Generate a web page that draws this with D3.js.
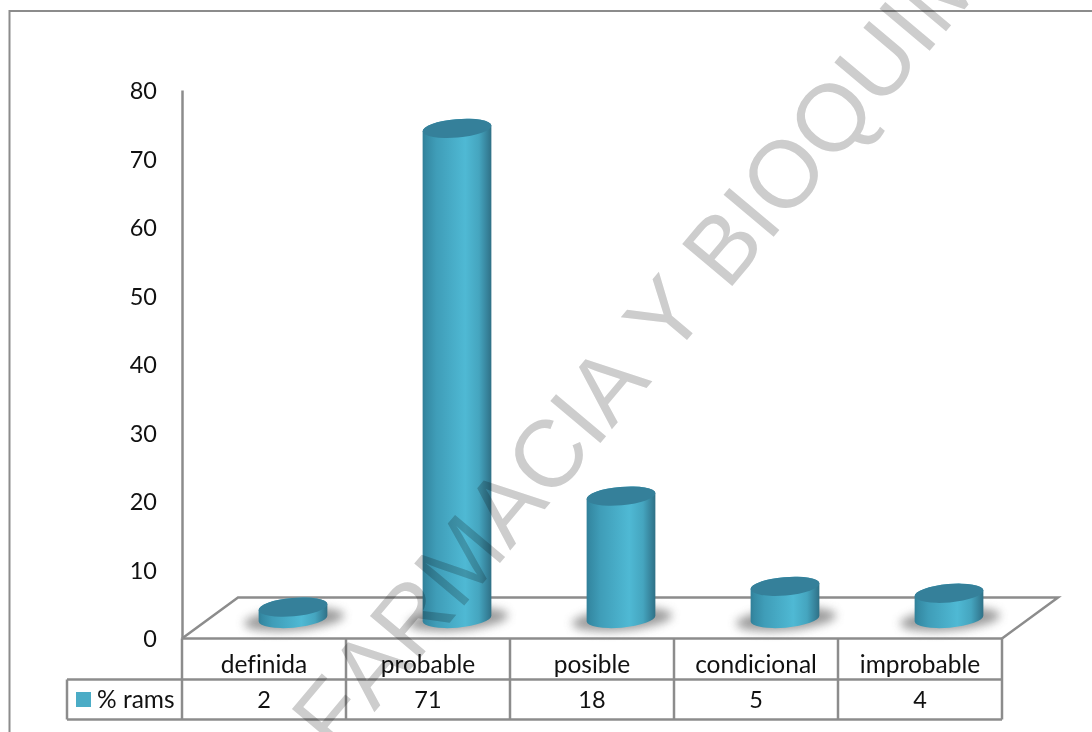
<!DOCTYPE html>
<html>
<head>
<meta charset="utf-8">
<script src="https://cdn.jsdelivr.net/npm/d3@7/dist/d3.min.js"></script>
<style>
  html, body { margin: 0; padding: 0; background: #fff; overflow: hidden; }
  svg { display: block; }
  text { font-family: Lato, "Open Sans", sans-serif; fill: #111; font-variant-ligatures: none; }
</style>
</head>
<body>
<svg id="chart" width="1092" height="732"></svg>
<script>
const categories = ["definida", "probable", "posible", "condicional", "improbable"];
const values = [2, 71, 18, 5, 4];
const yTicks = [0, 10, 20, 30, 40, 50, 60, 70, 80];
const seriesName = "% rams";
const stamp = "FARMACIA Y BIOQUIMICA";

const W = 1092, H = 732;
const ink = "#8c8c8c";
const wordSize = 24.5;
const digitSize = 23.5;
const depth = { x: 56, y: 41 };
const plot = { left: 182, right: 1002, top: 90, bottom: 638.5 };
const rows = { head: 679.5, foot: 719.5 };
const legendLeft = 67;

const svg = d3.select("#chart");
const defs = svg.append("defs");

// Horizontal shading that makes each column read as a cylinder
const side = defs.append("linearGradient").attr("id", "cylSide");
[[0, "#317f98"], [0.05, "#358aa4"], [0.2, "#3f9db8"], [0.62, "#4fb9d4"], [0.82, "#45a5bf"], [0.95, "#357f97"], [1, "#2f7085"]]
  .forEach(([o, c]) => side.append("stop").attr("offset", o).attr("stop-color", c));

defs.append("filter").attr("id", "soft")
  .attr("x", "-30%").attr("y", "-80%").attr("width", "160%").attr("height", "260%")
  .append("feGaussianBlur").attr("stdDeviation", 5);

const x = d3.scaleBand().domain(categories).range([plot.left, plot.right]);
const y = d3.scaleLinear().domain([0, 80]).range([plot.bottom, plot.top]);
// Columns stand on the receding floor, so they use their own projected scale
const yDepth = d3.scaleLinear().domain([0, 80]).range([621, 66]);

// Outer chart frame, running past the right and bottom of the page
svg.append("rect").attr("x", 9.5).attr("y", 11).attr("width", W + 40).attr("height", H + 40)
  .attr("fill", "#fff").attr("stroke", ink).attr("stroke-width", 2);

// Value axis
const axis = svg.append("g").attr("transform", `translate(${plot.left},0)`)
  .call(d3.axisLeft(y).tickValues(yTicks).tickSize(0).tickPadding(25).tickFormat(d3.format("d")));
axis.select(".domain").attr("stroke", ink).attr("stroke-width", 2.5);
axis.selectAll("text").attr("font-size", digitSize).attr("fill", "#111").attr("dy", "0.36em");

// Floor parallelogram
const floor = d3.line();
svg.append("path")
  .attr("d", floor([
    [plot.left, plot.bottom],
    [plot.left + depth.x, plot.bottom - depth.y],
    [plot.right + depth.x, plot.bottom - depth.y],
    [plot.right, plot.bottom]
  ]))
  .attr("fill", "none").attr("stroke", ink).attr("stroke-width", 2.5);

// Data table below the plot
const table = svg.append("g").attr("stroke", ink).attr("stroke-width", 2.5).attr("fill", "none");
table.append("line").attr("x1", plot.left).attr("x2", plot.right).attr("y1", plot.bottom).attr("y2", plot.bottom);
table.append("line").attr("x1", legendLeft).attr("x2", plot.right).attr("y1", rows.head).attr("y2", rows.head);
table.append("line").attr("x1", legendLeft).attr("x2", plot.right).attr("y1", rows.foot).attr("y2", rows.foot);
table.append("line").attr("x1", legendLeft).attr("x2", legendLeft).attr("y1", rows.head).attr("y2", rows.foot);
[...categories.map(c => x(c)), plot.right].forEach(px =>
  table.append("line").attr("x1", px).attr("x2", px).attr("y1", plot.bottom).attr("y2", rows.foot));

const cell = (sel, dy, size) => sel.append("text")
  .attr("x", (d, i) => x(categories[i]) + x.bandwidth() / 2)
  .attr("y", dy)
  .attr("text-anchor", "middle")
  .attr("font-size", size)
  .text(d => d);

cell(svg.append("g").selectAll("text").data(categories).enter(), rows.head - 7, wordSize);
cell(svg.append("g").selectAll("text").data(values).enter(), rows.foot - 12, digitSize);

svg.append("rect").attr("x", 76).attr("y", 692).attr("width", 15).attr("height", 15).attr("fill", "#4bacc6");
svg.append("text").attr("x", 97).attr("y", rows.foot - 12).attr("font-size", wordSize).text(seriesName);

// Cylinders: the sides end exactly on the tilted ellipse's long axis
const rx = 34.5, ry = 9.2, tilt = -5;
const reach = rx * Math.cos(-tilt * Math.PI / 180);
const lean = rx * Math.sin(-tilt * Math.PI / 180);
const baseY = yDepth(0) - 2.5;
const cx = c => x(c) + x.bandwidth() / 2 + 29;

const columns = svg.append("g").selectAll("g")
  .data(categories.map((c, i) => ({ c, v: values[i] })))
  .enter().append("g");

columns.append("ellipse")
  .attr("cx", d => cx(d.c) + 1).attr("cy", baseY + 1)
  .attr("rx", 50).attr("ry", 11)
  .attr("transform", d => `rotate(${tilt} ${cx(d.c)} ${baseY})`)
  .attr("fill", "#8a8a8a").attr("opacity", 0.85)
  .attr("filter", "url(#soft)");

columns.append("path")
  .attr("d", d => {
    const l = cx(d.c) - reach, r = cx(d.c) + reach, t = yDepth(d.v);
    return `M${l},${t + lean} L${l},${baseY + lean} ` +
      `A${rx},${ry} ${tilt} 0 0 ${r},${baseY - lean} ` +
      `L${r},${t - lean} A${rx},${ry} ${tilt} 0 0 ${l},${t + lean} Z`;
  })
  .attr("fill", "url(#cylSide)");

columns.append("ellipse")
  .attr("cx", d => cx(d.c)).attr("cy", d => yDepth(d.v))
  .attr("rx", rx).attr("ry", ry)
  .attr("transform", d => `rotate(${tilt} ${cx(d.c)} ${yDepth(d.v)})`)
  .attr("fill", "#35809a");

// Diagonal stamp across the whole sheet
svg.append("text")
  .attr("transform", "translate(337,757) rotate(-50)")
  .attr("font-size", 95)
  .style("font-family", '"Liberation Sans", Arial, sans-serif')
  .style("font-kerning", "none")
  .style("fill", "#cdcdcd")
  .style("mix-blend-mode", "multiply")
  .text(stamp);
</script>
</body>
</html>
